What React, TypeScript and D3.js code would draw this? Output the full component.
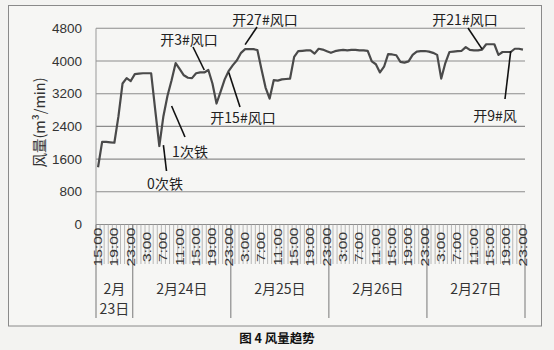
import React from "react";
import * as d3 from "d3";

// hourly air-flow values, 2月23日 15:00 -> 2月27日 23:00
const airflow: number[] = [
  1400, 2020, 2020, 2010, 2000, 2650, 3450, 3580, 3510,
  3680, 3690, 3700, 3700, 3700, 2800, 1920, 2650, 3150, 3530, 3950, 3800,
  3650, 3590, 3580, 3700, 3720, 3720, 3780, 3450, 2960, 3250, 3550, 3760,
  3900, 4020, 4200, 4290, 4290, 4290, 4270, 3800, 3350, 3080, 3530, 3520,
  3550, 3560, 3570, 4100, 4240, 4250, 4260, 4260, 4180, 4300, 4280, 4240,
  4200, 4240, 4260, 4270, 4260, 4270, 4270, 4260, 4260, 4250, 3990, 3920,
  3720, 3860, 4170, 4160, 4140, 3980, 3960, 3990, 4150, 4230, 4240, 4245,
  4230, 4200, 4150, 3570, 3950, 4220, 4230, 4240, 4250, 4340, 4270, 4260,
  4260, 4280, 4410, 4410, 4410, 4150, 4220, 4220, 4220, 4300, 4300, 4280,
];

const tickLabels: string[] = [
  "15:00", "19:00", "23:00",
  "3:00", "7:00", "11:00", "15:00", "19:00", "23:00",
  "3:00", "7:00", "11:00", "15:00", "19:00", "23:00",
  "3:00", "7:00", "11:00", "15:00", "19:00", "23:00",
  "3:00", "7:00", "11:00", "15:00", "19:00", "23:00",
];
const tickEvery = 4;

const dayLabels: string[][] = [["2月", "23日"], ["2月24日"], ["2月25日"], ["2月26日"], ["2月27日"]];
const dayHours: number[] = [9, 24, 24, 24, 24];

const yTicks: number[] = [0, 800, 1600, 2400, 3200, 4000, 4800];

type Note = { text: string; tx: number; ty: number; i: number; v: number; lx: number; ly: number };
// annotation: text position and leader line from (lx,ly) (near text) to data point (i, v)
const notes: Note[] = [
  { text: "开3#风口", tx: 189, ty: 39, i: 26, v: 3780, lx: 193, ly: 47 },
  { text: "开27#风口", tx: 265, ty: 19, i: 36, v: 4400, lx: 257, ly: 27 },
  { text: "开15#风口", tx: 243, ty: 117, i: 32, v: 3720, lx: 240, ly: 107 },
  { text: "1次铁", tx: 190, ty: 151, i: 18, v: 2900, lx: 185, ly: 137 },
  { text: "0次铁", tx: 165, ty: 183, i: 16, v: 1940, lx: 166.5, ly: 171 },
  { text: "开21#风口", tx: 465, ty: 19, i: 94, v: 4290, lx: 468, ly: 28 },
  { text: "开9#风", tx: 495, ty: 115, i: 101, v: 4240, lx: 505, ly: 99 },
];

const W = 554;
const H = 350;
const left = 96;
const right = 525;
const top = 28.3;
const bottom = 224.5;

export default function App() {
  const x = d3.scaleBand<number>().domain(d3.range(airflow.length)).range([left, right]).padding(0);
  const bw = x.bandwidth();
  const cx = (i: number) => (x(i) as number) + bw / 2;
  const y = d3.scaleLinear().domain([0, 4800]).range([bottom, top]);
  const line = d3
    .line<number>()
    .x((_, i) => cx(i))
    .y((d) => y(d))
    .curve(d3.curveLinear);

  const boundaries = d3.range(airflow.length + 1).map((i) => left + i * bw);
  const dayStarts: number[] = [];
  let acc = 0;
  dayHours.forEach((h) => {
    dayStarts.push(acc);
    acc += h;
  });

  const sans = "'Liberation Sans', 'Noto Sans CJK SC', sans-serif";
  const cjk = "'Noto Sans CJK SC', 'Liberation Sans', sans-serif";

  return (
    <svg
      width={W}
      height={H}
      style={{ position: "absolute", left: 0, top: 0, background: "#f3f3f1" }}
    >
      <rect x={0} y={0} width={W} height={H} fill="#f3f3f1" />
      {/* outer frame */}
      <rect x={8.5} y={5.5} width={533} height={320.5} fill="#f6f6f4" stroke="#8a8a8a" strokeWidth={1} />

      {/* gridlines */}
      {yTicks.map((t) => (
        <line key={t} x1={left} x2={right} y1={y(t)} y2={y(t)} stroke="#8c8c8c" strokeWidth={1.1} />
      ))}
      {/* y axis */}
      <line x1={left} x2={left} y1={top} y2={bottom} stroke="#999" strokeWidth={1} />

      {/* category tick lines */}
      {boundaries.map((bx, i) => (
        <line key={"b" + i} x1={bx} x2={bx} y1={bottom} y2={264} stroke="#aaa" strokeWidth={0.8} />
      ))}
      {/* day separators */}
      {[...dayStarts, airflow.length].map((s, k) => (
        <line key={"d" + k} x1={left + s * bw} x2={left + s * bw} y1={bottom} y2={318} stroke="#777" strokeWidth={1} />
      ))}

      {/* y tick labels */}
      {yTicks.map((t) => (
        <text key={"yt" + t} x={82} y={y(t)} textAnchor="end" dominantBaseline="central" fontSize={13.5} fontFamily={sans} fill="#333">
          {t}
        </text>
      ))}

      {/* y axis title */}
      <text
        transform={`translate(38,122.5) rotate(-90)`}
        textAnchor="middle"
        dominantBaseline="central"
        fontSize={14.5}
        fontFamily={cjk}
        fill="#333"
      >
        风量(m³/min)
      </text>

      {/* x tick labels */}
      {tickLabels.map((lab, k) => {
        const i = k * tickEvery;
        return (
          <text
            key={"xt" + k}
            transform={`translate(${cx(i)},247) rotate(-90) scale(1.35,1)`}
            textAnchor="middle"
            dominantBaseline="central"
            fontSize={11.5}
            fontFamily={sans}
            fill="#333"
          >
            {lab}
          </text>
        );
      })}

      {/* day labels */}
      {dayLabels.map((ls, k) => {
        const mid = left + (dayStarts[k] + dayHours[k] / 2) * bw;
        return ls.map((l, j) => (
          <text
            key={"day" + k + "_" + j}
            x={mid}
            y={288 + j * 20}
            textAnchor="middle"
            dominantBaseline="central"
            fontSize={14}
            fontFamily={cjk}
            fill="#333"
          >
            {l}
          </text>
        ));
      })}

      {/* data line */}
      <path d={line(airflow) || ""} fill="none" stroke="#4a4a4a" strokeWidth={2.2} strokeLinejoin="round" />

      {/* annotations */}
      {notes.map((n, k) => (
        <g key={"n" + k}>
          <line x1={n.lx} y1={n.ly} x2={cx(n.i)} y2={y(n.v)} stroke="#111" strokeWidth={1.6} />
          <text x={n.tx} y={n.ty} textAnchor="middle" dominantBaseline="central" fontSize={14} fontFamily={cjk} fill="#222">
            {n.text}
          </text>
        </g>
      ))}

      {/* caption */}
      <text x={277} y={337} textAnchor="middle" dominantBaseline="central" fontSize={12.5} fontWeight="bold" fontFamily={cjk} fill="#111">
        图 4 风量趋势
      </text>
    </svg>
  );
}
